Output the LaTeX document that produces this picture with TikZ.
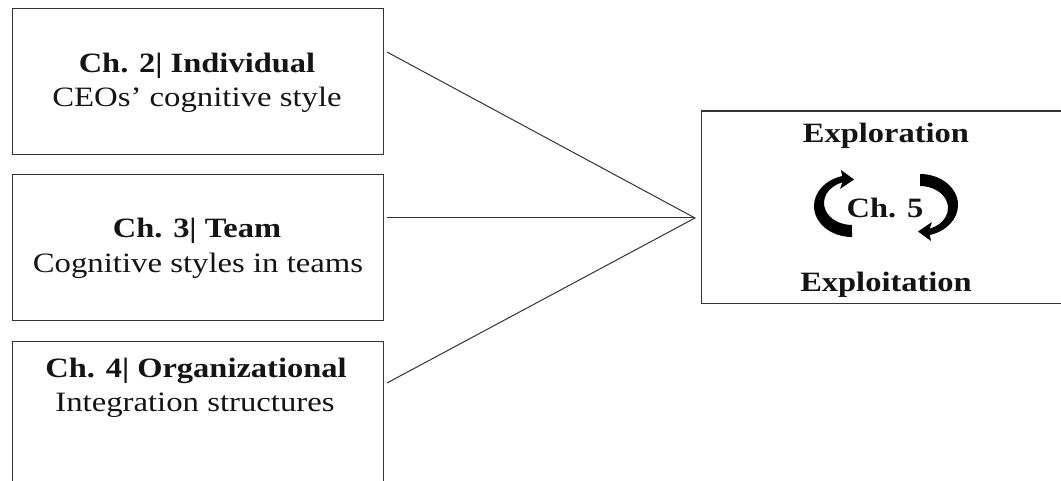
\documentclass[tikz,border=0pt]{standalone}
\usepackage{fontspec}
\setmainfont{Liberation Serif}
\newfontfamily\rmx{Liberation Serif}[FakeStretch=1.17]
\newfontfamily\bfx{Liberation Serif Bold}[FakeStretch=1.16]
\usetikzlibrary{arrows.meta}
\definecolor{edge}{HTML}{333333}
\definecolor{ink}{HTML}{141414}
\begin{document}
\begin{tikzpicture}[x=1pt,y=1pt,
  box/.style={draw=edge, line width=1.2pt, rectangle, inner sep=0pt, anchor=north west},
  tb/.style={font=\bfx\fontsize{28}{32}\selectfont, inner sep=0pt, anchor=base, text=ink},
  tr/.style={font=\rmx\fontsize{28}{32}\selectfont, inner sep=0pt, anchor=base, text=ink},
  conn/.style={draw=edge, line width=1pt},
  curv/.style={fill=black, draw=none}
]
\clip (0,0) rectangle (1061,-481);
\node[box, minimum width=371pt, minimum height=146pt] (b1) at (12,-8) {};
\node[box, minimum width=371pt, minimum height=146pt] (b2) at (12,-174) {};
\node[box, minimum width=371pt, minimum height=146pt] (b3) at (12,-341) {};
\node[box, minimum width=374pt, minimum height=192.5pt] (b5) at (701,-110.5) {};

\node[tb] (t1a) at (197,-73) {Ch. 2| Individual};
\node[tr] (t1b) at (197,-107) {CEOs’ cognitive style};
\node[tb] (t2a) at (197,-238) {Ch. 3| Team};
\node[tr] (t2b) at (198,-273) {Cognitive styles in teams};
\node[tb] (t3a) at (196,-377) {Ch. 4| Organizational};
\node[tr] (t3b) at (195,-411) {Integration structures};
\node[tb] (e1) at (886,-143) {Exploration};
\node[tb] (c5) at (885,-218) {Ch. 5};
\node[tb] (e2) at (886,-292) {Exploitation};

\coordinate (tip) at (695,-218);
\coordinate (s1) at (387,-52);
\coordinate (s2) at (387,-218);
\coordinate (s3) at (387,-383);
\draw[conn] (s1) -- (tip) -- (s3);
\draw[conn] (s2) -- (tip);

% left curved arrow
\fill[curv] (852,-237) arc[start angle=270, end angle=105, x radius=38, y radius=31]
  -- (841,-170) -- (854,-179.5) -- (840,-189)
  -- (842.4,-182.3) arc[start angle=110, end angle=270, x radius=28, y radius=22] -- cycle;
% right curved arrow
\fill[curv] (920,-174) arc[start angle=90, end angle=-75, x radius=38, y radius=31]
  -- (931,-241) -- (918,-231.5) -- (932,-222)
  -- (929.6,-228.7) arc[start angle=-70, end angle=90, x radius=28, y radius=22] -- cycle;
\end{tikzpicture}
\end{document}
